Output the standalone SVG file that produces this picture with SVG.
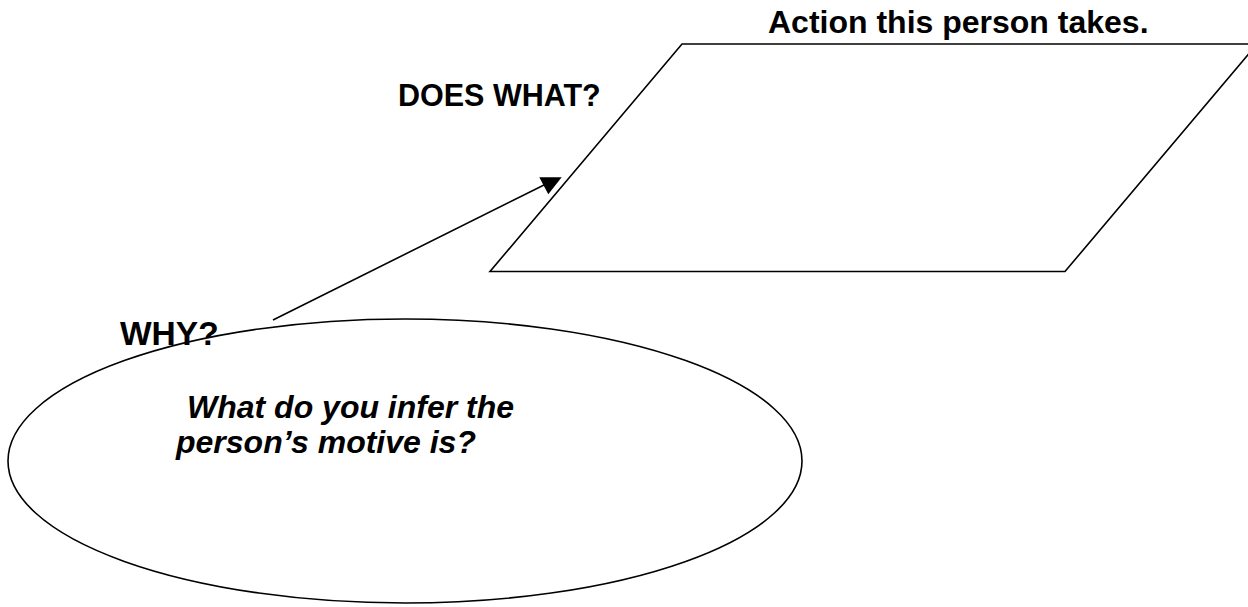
<svg xmlns="http://www.w3.org/2000/svg" width="1248" height="607" viewBox="0 0 1248 607">
<style>
.shape{fill:#fff;stroke:#000;stroke-width:1.6}
.conn{fill:none;stroke:#000;stroke-width:1.6}
.head{fill:#000;stroke:none}
.lbl{font-family:"Liberation Sans",Arial,sans-serif;font-weight:bold;fill:#000}
.it{font-style:italic}
</style>
<rect width="1248" height="607" fill="#fff"/>
<g id="node-action">
<polygon class="shape" points="682,44 1257,44 1065,271.5 490,271.5"/>
<text class="lbl" x="768" y="33" font-size="32">Action this person takes.</text>
<text class="lbl" x="398" y="106" font-size="30.5">DOES WHAT?</text>
</g>
<g id="node-motive">
<ellipse class="shape" cx="405" cy="461" rx="397" ry="142"/>
<text class="lbl it" x="187" y="418" font-size="32">What do you infer the</text>
<text class="lbl it" x="176" y="453" font-size="32">person’s motive is?</text>
</g>
<g id="label-why">
<text class="lbl" x="120" y="345" font-size="33.5">WHY?</text>
</g>
<g id="connectors">
<line class="conn" x1="273" y1="320" x2="546" y2="184"/>
<polygon class="head" points="539.3,177.3 561.7,177.3 548.3,194.3"/>
</g>
</svg>
